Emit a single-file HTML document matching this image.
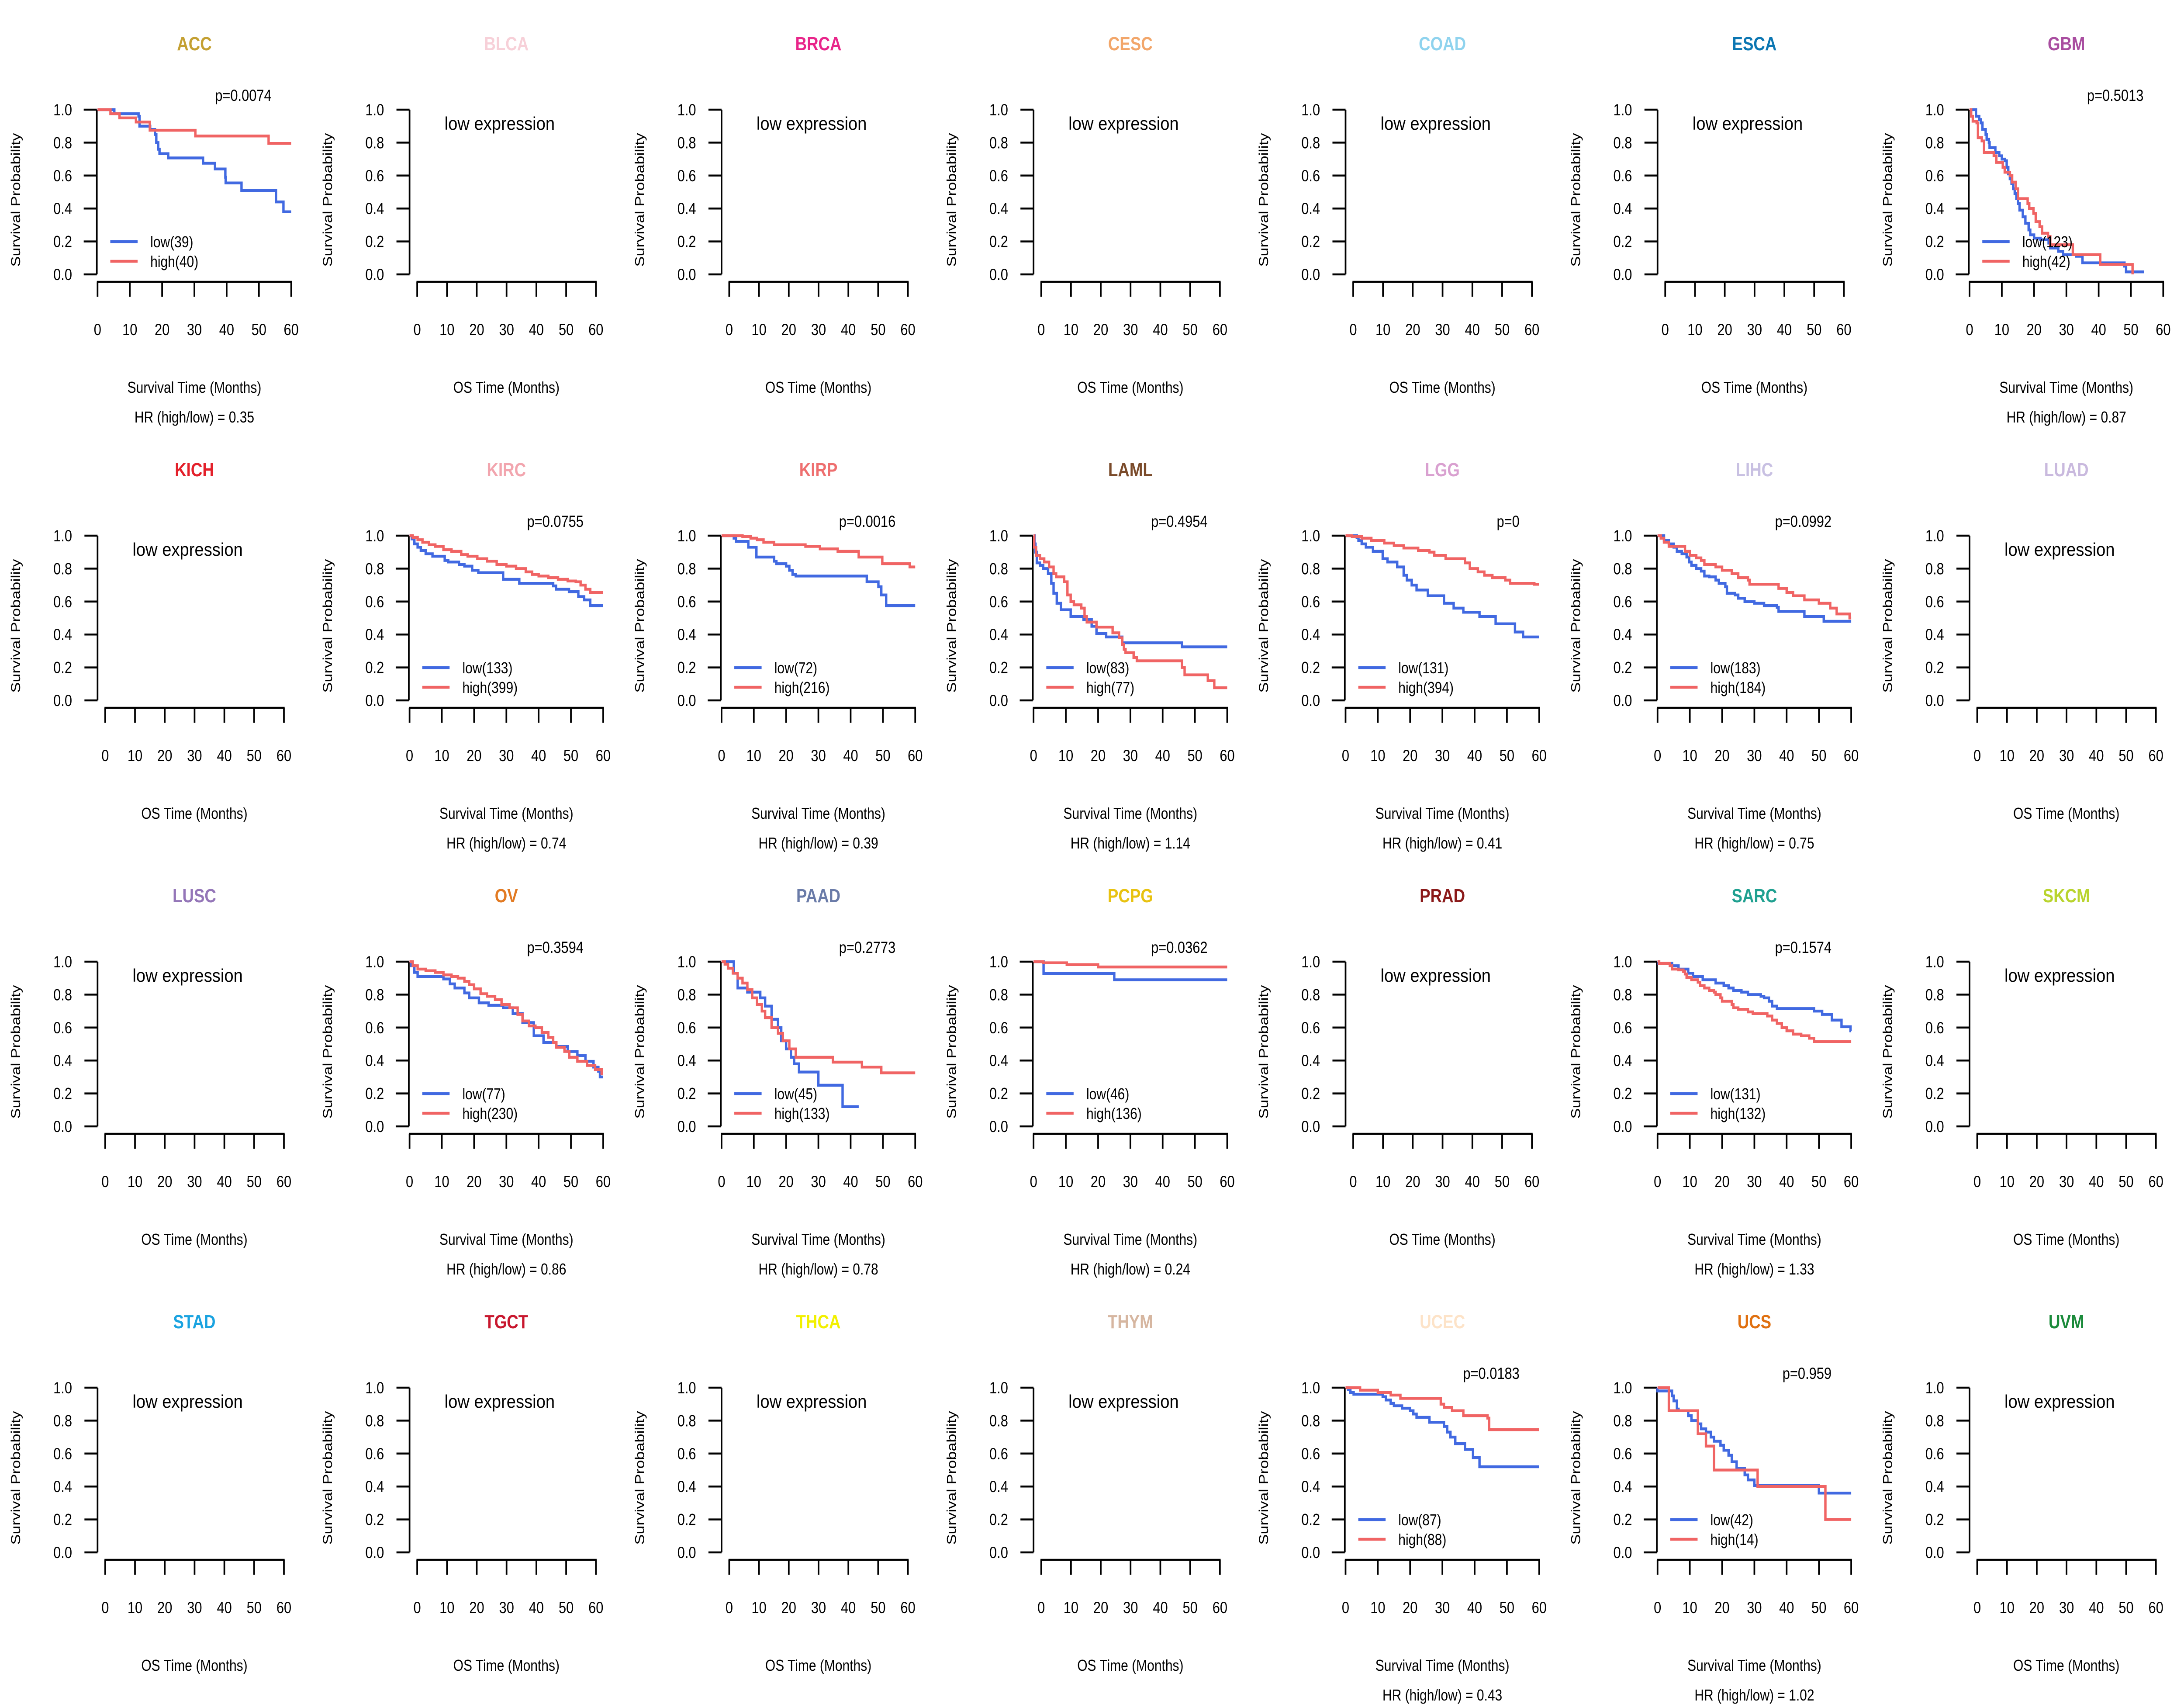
<!DOCTYPE html>
<html><head><meta charset="utf-8">
<style>
html,body{margin:0;padding:0;background:#fff;width:100%;height:100%;overflow:hidden;}
#chart{display:block;width:100vw;height:100vh;}
svg text{font-family:"Liberation Sans",Arial,sans-serif;}
</style></head>
<body>
<svg id="chart" xmlns="http://www.w3.org/2000/svg" viewBox="0 0 6000 3900" preserveAspectRatio="none">
<rect width="6000" height="3900" fill="#fff"/>
</svg>
<script>
// ---- data ----
const cancers = ["ACC","BLCA","BRCA","CESC","COAD","ESCA","GBM","KICH","KIRC","KIRP","LAML","LGG","LIHC","LUAD","LUSC","OV","PAAD","PCPG","PRAD","SARC","SKCM","STAD","TGCT","THCA","THYM","UCEC","UCS","UVM"];
const titleColors = ["#C4A032","#F7D0D8","#E8258A","#F2A66A","#8FD3EE","#0B76B2","#A94DA0","#E3202A","#F2A5AE","#EE6F6F","#7A4A2A","#D9A0D0","#C8C0E2","#C9B9DE","#9476B8","#E27A22","#6A7BA8","#E8C210","#8B1A1A","#1FA090","#B9D42E","#1AA3E0","#C8172E","#F2F000","#D6B6A0","#FDE3C8","#E07010","#1A8A3A"];
const pvals = {ACC:"p=0.0074",GBM:"p=0.5013",KIRC:"p=0.0755",KIRP:"p=0.0016",LAML:"p=0.4954",LGG:"p=0",LIHC:"p=0.0992",OV:"p=0.3594",PAAD:"p=0.2773",PCPG:"p=0.0362",SARC:"p=0.1574",UCEC:"p=0.0183",UCS:"p=0.959"};
const lowN = {ACC:39,GBM:123,KIRC:133,KIRP:72,LAML:83,LGG:131,LIHC:183,OV:77,PAAD:45,PCPG:46,SARC:131,UCEC:87,UCS:42};
const highN = {ACC:40,GBM:42,KIRC:399,KIRP:216,LAML:77,LGG:394,LIHC:184,OV:230,PAAD:133,PCPG:136,SARC:132,UCEC:88,UCS:14};
const hrs = {ACC:"0.35",GBM:"0.87",KIRC:"0.74",KIRP:"0.39",LAML:"1.14",LGG:"0.41",LIHC:"0.75",OV:"0.86",PAAD:"0.78",PCPG:"0.24",SARC:"1.33",UCEC:"0.43",UCS:"1.02"};
const lowEnd = {ACC:60,GBM:54,KIRC:60,KIRP:60,LAML:60,LGG:60,LIHC:60,OV:60,PAAD:42.5,PCPG:60,SARC:60,UCEC:60,UCS:60};
const highEnd = {ACC:60,GBM:50.5,KIRC:60,KIRP:60,LAML:60,LGG:60,LIHC:60,OV:60,PAAD:60,PCPG:60,SARC:60,UCEC:60,UCS:60};
const lowCurves = {
ACC:[[5.2,0.975],[12.7,0.96],[13,0.9],[16.3,0.88],[17.8,0.85],[18.2,0.8],[18.8,0.76],[19.2,0.733],[21.9,0.707],[32.7,0.675],[36.4,0.64],[39.6,0.59],[39.7,0.555],[44.6,0.51],[55.3,0.44],[57.6,0.38]],
GBM:[[2,0.96],[3,0.94],[3.5,0.92],[4,0.88],[5,0.85],[5.3,0.82],[6,0.8],[6.2,0.77],[8,0.74],[9.2,0.72],[10,0.7],[11,0.69],[11.5,0.65],[12,0.61],[12.5,0.58],[13,0.55],[13.5,0.52],[14,0.49],[14.5,0.46],[15,0.43],[15.5,0.39],[16.5,0.35],[17.3,0.31],[18.3,0.27],[18.8,0.24],[20,0.22],[22,0.21],[24.5,0.19],[25,0.16],[27.5,0.14],[29,0.12],[33,0.11],[35,0.07],[48,0.05],[48.5,0.015]],
KIRC:[[0.7,0.98],[1.5,0.95],[2.5,0.93],[3.5,0.91],[5,0.89],[7.1,0.875],[10.9,0.85],[12,0.84],[15.3,0.825],[17,0.815],[19.4,0.79],[21.3,0.775],[29,0.735],[34,0.71],[44.5,0.695],[45.4,0.675],[49.4,0.66],[52.3,0.63],[54.1,0.61],[56,0.575]],
KIRP:[[3.8,0.985],[4.5,0.965],[8.3,0.93],[10.8,0.87],[16.3,0.845],[17,0.83],[20,0.815],[21,0.79],[22,0.765],[23,0.755],[45,0.72],[48.6,0.69],[49.5,0.64],[51,0.575]],
LAML:[[0.3,0.95],[0.6,0.9],[1,0.835],[2,0.82],[3,0.8],[4.5,0.77],[5.5,0.71],[6.2,0.65],[7.2,0.59],[8.5,0.55],[11.5,0.51],[15.5,0.49],[18,0.45],[19.5,0.405],[22.5,0.385],[27.5,0.35],[46,0.325]],
LGG:[[3.5,0.99],[4,0.97],[5,0.95],[6.3,0.93],[8.5,0.905],[11.5,0.86],[13,0.84],[16,0.81],[18,0.76],[19,0.73],[20.5,0.7],[22,0.67],[25.5,0.635],[30.5,0.59],[33.5,0.56],[36.5,0.535],[41.5,0.51],[46.5,0.465],[52.5,0.415],[55,0.385]],
LIHC:[[2,0.97],[3.5,0.95],[5,0.93],[6,0.905],[7.5,0.89],[9,0.87],[9.8,0.84],[10.5,0.82],[12,0.8],[13.5,0.785],[14.5,0.755],[16,0.75],[18,0.73],[19,0.71],[21,0.69],[21.5,0.65],[24,0.64],[25,0.62],[27,0.6],[30,0.59],[33,0.575],[37,0.565],[37.5,0.54],[45.5,0.51],[51.5,0.48]],
OV:[[0.5,0.975],[1.5,0.935],[2.5,0.91],[10.5,0.895],[12.5,0.865],[14,0.84],[17,0.81],[18.5,0.78],[21.5,0.75],[24.5,0.735],[29,0.72],[32,0.685],[35,0.63],[38.5,0.55],[41.5,0.51],[45.5,0.485],[49,0.455],[52,0.43],[54.5,0.395],[57,0.36],[58.5,0.335],[59,0.3]],
PAAD:[[3.8,0.93],[5,0.84],[8,0.815],[12,0.78],[13.5,0.73],[15.5,0.65],[17.5,0.6],[18.5,0.52],[20,0.47],[21.5,0.42],[22.5,0.38],[24,0.33],[30,0.25],[37.5,0.12]],
PCPG:[[3.1,0.928],[25,0.89]],
SARC:[[0.3,0.99],[4.5,0.975],[6.5,0.955],[9.5,0.93],[11,0.91],[14,0.89],[18,0.87],[20.5,0.855],[22,0.84],[23.5,0.825],[26,0.815],[28,0.8],[32,0.79],[33,0.78],[34.5,0.76],[35.5,0.73],[37,0.715],[48.5,0.7],[51,0.68],[54,0.645],[57,0.605],[59.8,0.58]],
UCEC:[[0.8,0.99],[1.5,0.97],[2.5,0.96],[11.5,0.945],[12.5,0.925],[14,0.905],[15,0.89],[17.5,0.875],[20,0.86],[21,0.84],[22,0.82],[26,0.79],[30.5,0.765],[31.5,0.73],[32.5,0.7],[34,0.66],[37,0.625],[39.5,0.575],[41.5,0.52]],
UCS:[[0,0.98],[4.5,0.95],[5,0.92],[6,0.87],[6.5,0.86],[9.5,0.83],[10.5,0.8],[12.5,0.78],[13.5,0.75],[15,0.73],[16.5,0.7],[17.5,0.675],[19.5,0.65],[20.5,0.62],[22,0.59],[23,0.55],[24.5,0.51],[27,0.47],[28,0.44],[30,0.405],[50,0.36]]
};
const highCurves = {
ACC:[[4,0.975],[6.8,0.95],[11.9,0.925],[16.2,0.875],[30.3,0.84],[53,0.795]],
GBM:[[0.5,0.96],[1,0.93],[2.2,0.92],[2.6,0.83],[3.8,0.81],[4.5,0.74],[7.5,0.72],[8.3,0.68],[10.3,0.65],[10.9,0.62],[12.5,0.6],[13.2,0.56],[14.3,0.52],[15,0.46],[18,0.43],[18.5,0.4],[19.8,0.37],[20.5,0.32],[21.7,0.29],[22.5,0.25],[24.3,0.23],[25,0.18],[32,0.12],[40.5,0.06],[50.5,0.0]],
KIRC:[[1,0.99],[2.5,0.975],[4,0.96],[6,0.945],[8,0.935],[10.5,0.915],[13,0.905],[16,0.885],[18,0.875],[21,0.86],[24,0.845],[27,0.825],[30,0.815],[33,0.8],[36,0.78],[38,0.765],[40,0.755],[43,0.745],[46,0.735],[49,0.725],[51.5,0.72],[53,0.7],[54.5,0.675],[56,0.655]],
KIRP:[[6.5,0.995],[9,0.985],[11,0.975],[13,0.96],[16.3,0.945],[26,0.935],[30.5,0.92],[36,0.905],[42.5,0.87],[49.8,0.83],[58.3,0.81]],
LAML:[[0.2,0.93],[0.8,0.88],[2,0.86],[3.3,0.84],[4.8,0.81],[6.2,0.77],[7,0.75],[9.5,0.72],[10.5,0.64],[11.5,0.6],[12.5,0.58],[14.8,0.56],[15.8,0.51],[16.5,0.475],[19.5,0.445],[24.5,0.41],[26.5,0.38],[27.5,0.34],[28,0.31],[28.5,0.29],[31,0.26],[32,0.24],[46,0.2],[46.8,0.155],[54,0.12],[56,0.077]],
LGG:[[2,0.995],[5,0.985],[8,0.97],[12,0.955],[15,0.94],[18,0.925],[22.5,0.91],[26,0.9],[27.5,0.88],[31,0.86],[37,0.835],[38.5,0.8],[41,0.78],[43,0.76],[45.5,0.745],[49.5,0.73],[51,0.71],[58.5,0.705]],
LIHC:[[1,0.985],[2,0.96],[3.5,0.935],[8.5,0.905],[10,0.88],[12,0.865],[13.5,0.85],[14.5,0.825],[18,0.81],[20,0.79],[23,0.77],[25,0.745],[28,0.73],[28.5,0.705],[37.5,0.68],[40,0.655],[42,0.635],[45.5,0.61],[50,0.59],[53.5,0.56],[55.5,0.525],[59.5,0.5]],
OV:[[1,0.975],[2.5,0.955],[5,0.945],[8,0.935],[10.5,0.92],[13,0.91],[15,0.9],[17,0.88],[18.5,0.86],[20,0.835],[22,0.805],[24,0.79],[26.5,0.77],[28.5,0.74],[31,0.72],[33.5,0.68],[35,0.64],[37,0.61],[39,0.6],[41,0.57],[43,0.54],[44.5,0.51],[45.5,0.48],[48,0.455],[49.5,0.42],[52,0.395],[55,0.37],[57.5,0.345],[59.5,0.32]],
PAAD:[[1,0.985],[2,0.96],[3.5,0.93],[5,0.9],[6.5,0.87],[8,0.83],[9.5,0.78],[11,0.74],[12.5,0.7],[13.5,0.66],[15.5,0.6],[17.5,0.565],[19,0.52],[21,0.47],[23,0.42],[34.5,0.39],[43.5,0.36],[49.5,0.325]],
PCPG:[[3,0.993],[10.3,0.982],[20,0.968]],
SARC:[[0.5,0.99],[3.8,0.975],[4.5,0.955],[6.5,0.95],[8,0.94],[8.5,0.925],[9,0.905],[10.5,0.89],[12.5,0.875],[13.2,0.855],[14.5,0.84],[16,0.825],[17.5,0.815],[18,0.8],[19.5,0.78],[20,0.76],[23,0.74],[23.5,0.72],[25,0.71],[28,0.695],[29.5,0.685],[34,0.67],[35.5,0.645],[37,0.625],[38.5,0.6],[40,0.58],[42,0.56],[44.5,0.55],[47,0.535],[48.5,0.515]],
UCEC:[[4.5,0.985],[10,0.97],[14,0.955],[17,0.935],[29.5,0.9],[30.5,0.88],[33,0.86],[36.5,0.83],[44,0.815],[44.5,0.745]],
UCS:[[3.5,0.86],[12.5,0.72],[15,0.645],[17.5,0.5],[31,0.4],[52,0.2]]
};
const yTicks = [0,0.2,0.4,0.6,0.8,1.0];
const yTickLabels = ["0.0","0.2","0.4","0.6","0.8","1.0"];
const xTicks = [0,10,20,30,40,50,60];

// ---- drawing ----
const NS="http://www.w3.org/2000/svg";
const svg=document.getElementById('chart');
const PW=6000/7, PH=975;
const BLUE="#4169E1", RED="#F06464";
function mk(tag,attrs,parent){const e=document.createElementNS(NS,tag);for(const k in attrs)e.setAttribute(k,attrs[k]);(parent||svg).appendChild(e);return e;}
function txt(parent,x,y,s,attrs){const t=mk('text',Object.assign({x:x,y:y,'font-size':36,fill:'#000'},attrs||{}),parent);t.textContent=s;return t;}

cancers.forEach((c,i)=>{
  const ox=(i%7)*PW, oy=Math.floor(i/7)*PH;
  const g=mk('g',{transform:`translate(${ox.toFixed(2)},${oy})`});
  
  
  const hasData = c in pvals;
  const yAxisX = hasData?266:268;
  const x0 = hasData?268:289, x1 = hasData?800:780;
  const X = t => x0 + t*(x1-x0)/60;
  const Y = s => 628 - s*377;
  const tt=txt(g,534,115,c,{'font-size':44,'font-weight':'bold','text-anchor':'middle',fill:titleColors[i]});
  
  
  const ya=mk('g',{},g);
  
  
  mk('line',{x1:yAxisX,y1:Y(1),x2:yAxisX,y2:Y(0),stroke:'#000','stroke-width':4.5},ya);
  yTicks.forEach((v,k)=>{
    mk('line',{x1:yAxisX-36,y1:Y(v),x2:yAxisX,y2:Y(v),stroke:'#000','stroke-width':4.5},ya);
    txt(ya,198,Y(v)+13,yTickLabels[k],{'text-anchor':'end','font-size':37});
  });
  const yl=txt(g,0,0,'Survival Probability',{'text-anchor':'middle','font-size':36,transform:`translate(55,${(Y(0)+Y(1))/2+18}) rotate(-90)`});
  
  
  const xa=mk('g',{},g);
  
  
  mk('line',{x1:X(0)-2,y1:645,x2:X(60)+2,y2:645,stroke:'#000','stroke-width':4.5},xa);
  xTicks.forEach(v=>{
    mk('line',{x1:X(v),y1:645,x2:X(v),y2:679,stroke:'#000','stroke-width':4.5},xa);
    txt(xa,X(v),767,String(v),{'text-anchor':'middle','font-size':37});
  });
  const xl=txt(g,534,899,hasData?'Survival Time (Months)':'OS Time (Months)',{'text-anchor':'middle','font-size':36});
  
  
  if(!hasData){
    const le=txt(g,364,297,'low expression',{'font-size':42,textLength:303,lengthAdjust:'spacingAndGlyphs'});
    
    
    return;
  }
  function curve(pts,end,color,name){
    let d=`M${X(0)},${Y(1)}`;
    pts.forEach(p=>{d+=` H${X(p[0]).toFixed(1)} V${Y(p[1]).toFixed(1)}`;});
    d+=` H${X(end).toFixed(1)}`;
    const p=mk('path',{d:d,fill:'none',stroke:color,'stroke-width':6.5,'stroke-linejoin':'miter'},g);
    
    
  }
  curve(lowCurves[c],lowEnd[c],BLUE,'low-curve');
  curve(highCurves[c],highEnd[c],RED,'high-curve');
  const pv=txt(g,746,231,pvals[c],{'text-anchor':'end','font-size':37});
  
  
  const lg=mk('g',{},g);
  
  
  mk('line',{x1:303,y1:553,x2:378,y2:553,stroke:BLUE,'stroke-width':6.5},lg);
  mk('line',{x1:303,y1:598,x2:378,y2:598,stroke:RED,'stroke-width':6.5},lg);
  txt(lg,413,566,`low(${lowN[c]})`,{'font-size':36});
  txt(lg,413,611,`high(${highN[c]})`,{'font-size':36});
  const hr=txt(g,534,967,`HR (high/low) =  ${hrs[c]}`,{'text-anchor':'middle','font-size':36,'xml:space':'preserve'});
  
  
});
</script>
</body></html>
